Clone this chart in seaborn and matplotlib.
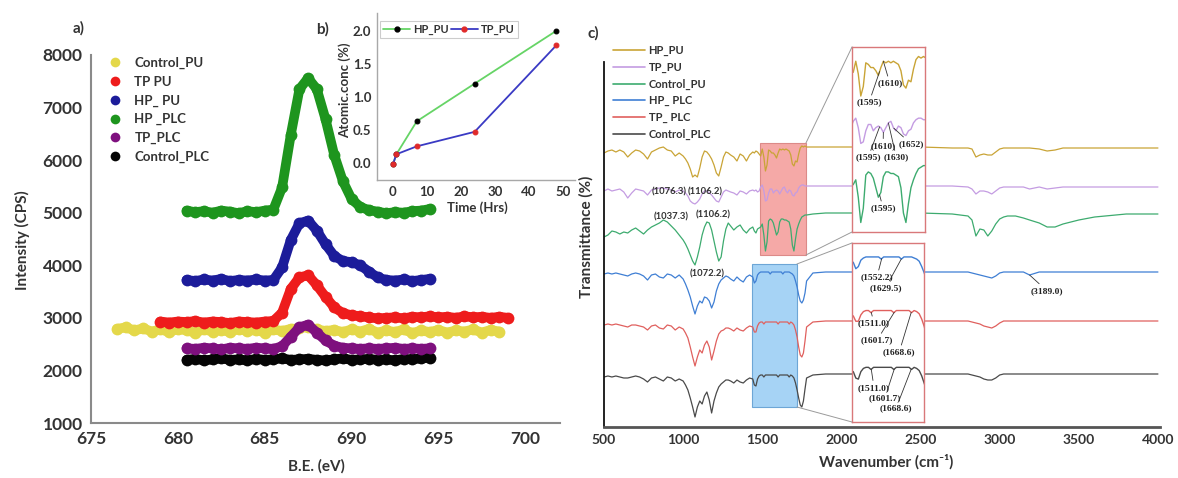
import numpy as np
import matplotlib
matplotlib.use("Agg")
import matplotlib.pyplot as plt
from matplotlib.lines import Line2D
from matplotlib.patches import Rectangle, ConnectionPatch
import seaborn as sns

sns.set_style("white")
plt.rcParams["font.family"] = ["Lato", "DejaVu Sans"]
plt.rcParams["font.weight"] = "bold"
plt.rcParams["axes.labelweight"] = "bold"
plt.rcParams["text.color"] = "#333333"
plt.rcParams["axes.labelcolor"] = "#333333"
plt.rcParams["xtick.color"] = "#333333"
plt.rcParams["ytick.color"] = "#333333"

# ---------------- (a) XPS F 1s spectra ----------------
be_control_pu = np.arange(676.5, 698.51, 0.5)
cps_control_pu = [2790, 2820, 2760, 2800, 2740, 2780, 2730, 2790, 2760, 2720,
                  2780, 2740, 2770, 2730, 2790, 2750, 2770, 2720, 2780, 2750,
                  2790, 2800, 2830, 2780, 2750, 2770, 2730, 2780, 2740, 2790,
                  2720, 2760, 2730, 2780, 2710, 2760, 2730, 2770, 2720, 2760,
                  2740, 2780, 2720, 2770, 2740]
be_tp_pu = np.arange(679.0, 699.01, 0.5)
cps_tp_pu = [2930, 2910, 2930, 2920, 2940, 2910, 2930, 2920, 2900, 2930,
             2920, 2910, 2930, 2940, 3100, 3550, 3770, 3810, 3620, 3400,
             3200, 3090, 3050, 3030, 3010, 2990, 3000, 3010, 2990, 3020,
             3010, 3030, 3010, 3020, 3000, 3030, 3010, 3020, 3000, 3020, 3000]
be_short = np.arange(680.5, 694.51, 0.5)
cps_hp_pu = [3720, 3700, 3730, 3710, 3740, 3700, 3720, 3710, 3730, 3710,
             3720, 3960, 4480, 4800, 4850, 4660, 4400, 4180, 4080, 4060,
             4000, 3880, 3770, 3720, 3710, 3730, 3700, 3720, 3740]
cps_hp_plc = [5040, 5010, 5030, 5000, 5040, 5020, 4990, 5030, 5010, 5040,
              5060, 5480, 6480, 7350, 7560, 7350, 6780, 6100, 5600, 5260,
              5110, 5050, 5020, 4990, 5010, 5000, 5030, 5040, 5070]
cps_tp_plc = [2420, 2410, 2430, 2420, 2400, 2430, 2420, 2410, 2430, 2420,
              2410, 2460, 2640, 2820, 2870, 2720, 2570, 2470, 2430, 2420,
              2410, 2420, 2410, 2420, 2430, 2410, 2420, 2410, 2420]
cps_control_plc = [2200, 2220, 2190, 2210, 2230, 2200, 2210, 2190, 2220, 2200,
                   2210, 2230, 2200, 2210, 2220, 2200, 2190, 2210, 2230, 2200,
                   2210, 2220, 2200, 2210, 2190, 2220, 2210, 2230, 2240]
xps_labels = ["Control_PU", "TP PU", "HP_ PU", "HP _PLC", "TP_PLC", "Control_PLC"]
xps_colors = ["#e4d84a", "#ee1c1c", "#1c1c9a", "#1e951e", "#7e107e", "#050505"]

# ---------------- (b) atomic concentration vs time ----------------
time_hrs = [0, 1, 7, 24, 48]
conc_hp_pu = [-0.02, 0.13, 0.63, 1.20, 2.00]
conc_tp_pu = [-0.02, 0.13, 0.25, 0.47, 1.78]

# ---------------- (c) FTIR spectra (stacked, arbitrary offsets) ----------------
wavenumber = np.concatenate([
    np.arange(500, 1001, 25), np.arange(1015, 1301, 15), np.arange(1320, 1441, 20),
    np.arange(1450, 1781, 10), [1820, 1900, 2000, 2100, 2300, 2500, 2700, 2800],
    np.arange(2825, 3051, 25), [3100, 3150, 3189, 3250, 3300, 3350, 3400, 3500, 3600, 3800, 4000]])

t_hp_pu = [274, 276, 277, 275, 277, 275, 270, 274, 277, 276, 273, 268, 275, 277, 279, 280, 277, 276, 271, 274, 271,
           268, 264, 258, 250, 252, 250, 259, 270, 276, 275, 272, 268, 262, 254, 251, 260, 270, 275, 274, 272,
           270, 266, 273, 271, 266, 272, 275,
           274, 276, 275, 273, 271, 278, 270, 256, 262, 277, 276, 274, 274, 272, 269, 274, 278, 277, 278, 277,
           278, 277, 276, 272, 263, 261, 266, 265, 273, 279, 281, 280, 281, 280,
           280, 280, 280, 280, 280, 280, 279, 279,
           278, 270, 272, 273, 272, 272, 275, 278, 279, 279,
           279, 279, 279, 278, 276, 277, 279, 279, 279, 279, 279]
t_tp_pu = [236, 238, 236, 237, 238, 235, 229, 234, 238, 237, 236, 232, 237, 238, 239, 239, 238, 237, 235, 237, 236,
           234, 231, 226, 224, 223, 225, 228, 233, 236, 236, 234, 232, 229, 226, 225, 230, 235, 237, 236, 235,
           234, 232, 236, 235, 233, 236, 237,
           236, 237, 235, 236, 240, 242, 236, 226, 227, 234, 238, 238, 234, 236, 237, 236, 233, 236, 239, 240,
           236, 234, 237, 236, 232, 231, 234, 235, 239, 241, 242, 242, 241, 241,
           241, 241, 241, 241, 241, 241, 241, 240,
           238, 233, 236, 236, 235, 233, 236, 239, 240, 240,
           240, 240, 238, 240, 238, 239, 240, 240, 240, 240, 240]
t_control_pu = [190, 192, 196, 195, 193, 195, 194, 197, 199, 196, 193, 197, 200, 202, 204, 207, 205, 201, 197, 192, 187,
                183, 178, 172, 166, 162, 170, 180, 192, 200, 205, 204, 197, 186, 175, 166, 170, 186, 198, 204, 201,
                197, 200, 202, 197, 194, 198, 200,
                196, 194, 198, 199, 200, 203, 192, 176, 185, 206, 208, 207, 204, 198, 192, 195, 205, 208, 208, 207,
                207, 206, 205, 198, 182, 176, 188, 198, 203, 207, 210, 211, 212, 212,
                213, 214, 214, 214, 214, 214, 213, 211,
                207, 191, 198, 197, 191, 196, 203, 208, 210, 211,
                211, 209, 207, 204, 200, 200, 203, 207, 210, 213, 213]
t_hp_plc = [153, 154, 153, 154, 153, 152, 151, 153, 154, 153, 151, 147, 152, 153, 150, 149, 153, 152, 149, 152, 148,
            143, 137, 130, 121, 113, 121, 126, 124, 130, 129, 126, 119, 125, 136, 143, 147, 149, 151, 150, 148,
            146, 150, 147, 145, 150, 152, 150,
            144, 146, 152, 154, 155, 155, 155, 155, 155, 155, 153, 155, 155, 155, 155, 155, 155, 155, 153,
            155, 155, 155, 155, 154, 153, 151, 146, 140, 132, 126, 124, 127, 134, 146,
            154, 155, 155, 155, 155, 155, 155, 155,
            154, 153, 152, 151, 150, 149, 151, 154, 155, 155,
            155, 155, 152, 155, 155, 155, 155, 155, 155, 155, 155]
t_tp_plc = [102, 103, 102, 103, 102, 101, 100, 102, 102, 101, 100, 97, 101, 102, 99, 98, 102, 101, 97, 100, 98,
            94, 89, 80, 70, 61, 70, 77, 74, 82, 86, 80, 67, 76, 86, 93, 96, 97, 99, 99, 98,
            96, 99, 97, 96, 99, 101, 100,
            95, 95, 101, 104, 105, 105, 103, 105, 105, 105, 105, 105, 105, 105, 105, 103, 105, 105, 105, 105,
            105, 105, 103, 105, 104, 102, 97, 90, 80, 72, 70, 74, 86, 100,
            105, 106, 106, 106, 106, 106, 106, 106,
            105, 104, 103, 101, 100, 99, 101, 104, 106, 106,
            106, 106, 106, 106, 106, 106, 106, 106, 106, 106, 106]
t_control_plc = [50, 51, 50, 51, 50, 49, 49, 50, 51, 50, 48, 45, 49, 50, 48, 46, 50, 49, 46, 48, 46,
                 42, 37, 29, 20, 10, 20, 26, 23, 31, 35, 27, 14, 26, 34, 40, 43, 45, 47, 47, 46,
                 44, 47, 45, 44, 47, 49, 48,
                 42, 41, 48, 51, 52, 52, 50, 52, 52, 52, 52, 52, 52, 52, 52, 50, 52, 52, 52, 52,
                 52, 52, 50, 52, 51, 49, 44, 37, 29, 22, 20, 26, 38, 49,
                 52, 53, 53, 53, 53, 53, 53, 53,
                 52, 51, 50, 48, 47, 47, 49, 52, 53, 53,
                 53, 53, 53, 53, 53, 53, 53, 53, 53, 53, 53]
ftir_labels = ["HP_PU", "TP_PU", "Control_PU", "HP_ PLC", "TP_ PLC", "Control_PLC"]
ftir_colors = ["#c9a436", "#c49ce2", "#3dab6f", "#3f7fd4", "#e0605e", "#4a4a4a"]

W, H = 1178, 478


def frame(left, top, right, bottom):
    return [left / W, 1 - bottom / H, (right - left) / W, (bottom - top) / H]


fig = plt.figure(figsize=(W / 100, H / 100), dpi=100)

# ---------------- panel a ----------------
ax_a = fig.add_axes(frame(91, 55, 560, 423))
xps_curves = {
    "Control_PU": (be_control_pu, cps_control_pu),
    "TP PU": (be_tp_pu, cps_tp_pu),
    "HP_ PU": (be_short, cps_hp_pu),
    "HP _PLC": (be_short, cps_hp_plc),
    "TP_PLC": (be_short, cps_tp_plc),
    "Control_PLC": (be_short, cps_control_plc),
}
xps_color_of = dict(zip(xps_labels, xps_colors))
for name in ["Control_PU", "Control_PLC", "TP_PLC", "TP PU", "HP_ PU", "HP _PLC"]:
    be, cps = xps_curves[name]
    sns.lineplot(x=be, y=cps, ax=ax_a, color=xps_color_of[name], lw=7.0, marker="o",
                 markersize=8.5, markeredgewidth=0, solid_capstyle="round",
                 estimator=None, sort=False, legend=False)
ax_a.set_xlim(675, 702)
ax_a.set_ylim(1000, 8000)
ax_a.set_xticks(range(675, 701, 5))
ax_a.set_yticks(range(1000, 8001, 1000))
ax_a.tick_params(length=0, labelsize=12.5, pad=6)
for s in ["top", "right"]:
    ax_a.spines[s].set_visible(False)
for s in ["left", "bottom"]:
    ax_a.spines[s].set_color("#8a8a8a")
    ax_a.spines[s].set_linewidth(1.5)
ax_a.set_xlabel("B.E. (eV)", fontsize=11)
ax_a.set_ylabel("Intensity (CPS)", fontsize=11)
ax_a.xaxis.label.set_va("center")
ax_a.yaxis.label.set_va("center")
ax_a.xaxis.set_label_coords(0.48, -0.117)
ax_a.yaxis.set_label_coords(-0.147, 0.497)
handles_a = [Line2D([], [], ls="none", marker="o", markersize=7, markeredgewidth=0, color=c)
             for c in xps_colors]
ax_a.legend(handles_a, xps_labels, loc="upper left", bbox_to_anchor=(108 / W, 1 - 57 / H),
            bbox_transform=fig.transFigure, frameon=False, fontsize=9.5, handlelength=1.0,
            handletextpad=1.0, labelspacing=0.5, borderpad=0, borderaxespad=0)

# ---------------- panel b ----------------
ax_b = fig.add_axes(frame(377, 13, 575, 180))
ax_b.set_facecolor("none")
sns.lineplot(x=time_hrs, y=conc_hp_pu, ax=ax_b, color="#66d466", lw=1.3, marker="o",
             markersize=3.5, markerfacecolor="black", markeredgecolor="black",
             estimator=None, sort=False, legend=False)
sns.lineplot(x=time_hrs, y=conc_tp_pu, ax=ax_b, color="#3a3ac4", lw=1.3, marker="o",
             markersize=3.5, markerfacecolor="#e02a2a", markeredgecolor="#e02a2a",
             estimator=None, sort=False, legend=False)
ax_b.set_xlim(-4.7, 53.5)
ax_b.set_ylim(-0.26, 2.27)
ax_b.set_xticks(range(0, 51, 10))
ax_b.set_yticks([0.0, 0.5, 1.0, 1.5, 2.0])
ax_b.set_yticklabels([f"{v:.1f}" for v in [0.0, 0.5, 1.0, 1.5, 2.0]])
ax_b.tick_params(length=0, labelsize=9.5, pad=4)
for s in ["top", "right"]:
    ax_b.spines[s].set_visible(False)
for s in ["left", "bottom"]:
    ax_b.spines[s].set_color("#a8a8a8")
    ax_b.spines[s].set_linewidth(1.0)
ax_b.set_xlabel("Time (Hrs)", fontsize=9.5)
ax_b.set_ylabel("Atomic.conc (%)", fontsize=9.5)
ax_b.xaxis.label.set_va("center")
ax_b.yaxis.label.set_va("center")
ax_b.xaxis.set_label_coords(0.505, -0.168)
ax_b.yaxis.set_label_coords(-0.162, 0.54)
handles_b = [Line2D([], [], color="#66d466", lw=1.3, marker="o", markersize=3.5,
                    markerfacecolor="black", markeredgecolor="black"),
             Line2D([], [], color="#3a3ac4", lw=1.3, marker="o", markersize=3.5,
                    markerfacecolor="#e02a2a", markeredgecolor="#e02a2a")]
leg_b = ax_b.legend(handles_b, ["HP_PU", "TP_PU"], ncol=2, loc="upper left",
                    bbox_to_anchor=(0.015, 0.955), frameon=True, fancybox=False,
                    fontsize=8, handlelength=2.4, handletextpad=0.3, columnspacing=0.2,
                    borderpad=0.3, borderaxespad=0)
leg_b.get_frame().set_edgecolor("#c0c0c0")
leg_b.get_frame().set_linewidth(0.8)

# ---------------- panel c ----------------
ax_c = fig.add_axes(frame(604, 62, 1160, 427))
ax_c.set_facecolor("none")
ftir_traces = [t_hp_pu, t_tp_pu, t_control_pu, t_hp_plc, t_tp_plc, t_control_plc]
pu_window = (1485, 1776, 172, 284)
plc_window = (1435, 1719, 20, 163)
ax_c.add_patch(Rectangle((pu_window[0], pu_window[2]), pu_window[1] - pu_window[0],
                         pu_window[3] - pu_window[2], facecolor="#f5a9a7",
                         edgecolor="#dc8a88", lw=0.8, zorder=1))
ax_c.add_patch(Rectangle((plc_window[0], plc_window[2]), plc_window[1] - plc_window[0],
                         plc_window[3] - plc_window[2], facecolor="#a6d3f5",
                         edgecolor="#6da6d6", lw=0.8, zorder=1))
for trace, color in zip(ftir_traces, ftir_colors):
    sns.lineplot(x=wavenumber, y=trace, ax=ax_c, color=color, lw=0.9,
                 estimator=None, sort=False, legend=False, zorder=2)
ax_c.set_xlim(500, 4013)
ax_c.set_ylim(0, 365)
ax_c.set_xticks(range(500, 4001, 500))
ax_c.set_yticks([])
ax_c.tick_params(length=0, labelsize=10, pad=5)
for s in ["top", "right"]:
    ax_c.spines[s].set_visible(False)
ax_c.spines["left"].set_color("#111111")
ax_c.spines["left"].set_linewidth(1.3)
ax_c.spines["bottom"].set_color("#555555")
ax_c.spines["bottom"].set_linewidth(2.0)
ax_c.set_xlabel("Wavenumber (cm⁻¹)", fontsize=11)
ax_c.set_ylabel("Transmittance (%)", fontsize=11)
ax_c.xaxis.label.set_va("center")
ax_c.yaxis.label.set_va("center")
ax_c.xaxis.set_label_coords(0.507, -0.096)
ax_c.yaxis.set_label_coords(-0.031, 0.52)

main_tags = [("(1076.3)", 912, 235), ("(1106.2)", 1140, 235),
             ("(1037.3)", 925, 210), ("(1106.2)", 1189, 212), ("(1072.2)", 1151, 153)]
for text, x, y in main_tags:
    ax_c.text(x, y, text, fontsize=6.8, ha="center", va="center", color="#333333", zorder=3)
ax_c.annotate("(3189.0)", xy=(3189.0, np.interp(3189.0, wavenumber, t_hp_plc)),
              xytext=(3300, 136), fontsize=6.8, ha="center", va="center",
              fontfamily=["Liberation Serif"], color="#222222",
              arrowprops=dict(arrowstyle="-", color="#333333", lw=0.6, shrinkA=0, shrinkB=0))

handles_c = [Line2D([], [], color=c, lw=1.2) for c in ftir_colors]
ax_c.legend(handles_c, ftir_labels, loc="upper left", bbox_to_anchor=(613 / W, 1 - 45 / H),
            bbox_transform=fig.transFigure, frameon=False, fontsize=8, handlelength=2.9,
            handletextpad=0.3, labelspacing=0.5, borderpad=0, borderaxespad=0)

# magnified views of the shaded windows
ins_pu = fig.add_axes(frame(852, 47, 925, 232), zorder=5)
ins_plc = fig.add_axes(frame(852, 243, 924, 422), zorder=5)
for ins, traces, colors, win, ylim in [
        (ins_pu, ftir_traces[:3], ftir_colors[:3], pu_window, (170, 287)),
        (ins_plc, ftir_traces[3:], ftir_colors[3:], plc_window, (1, 168))]:
    ins.set_facecolor("white")
    for trace, color in zip(traces, colors):
        sns.lineplot(x=wavenumber, y=trace, ax=ins, color=color, lw=1.0,
                     estimator=None, sort=False, legend=False)
    ins.set_xlim(win[0], win[1])
    ins.set_ylim(*ylim)
    ins.set_xticks([])
    ins.set_yticks([])
    ins.set_xlabel("")
    ins.set_ylabel("")
    for s in ins.spines.values():
        s.set_color("#d9787a")
        s.set_linewidth(1.0)
    for xa, ya, yb in [(win[1], win[3], 1), (win[1], win[2], 0)]:
        con = ConnectionPatch(xyA=(xa, ya), coordsA=ax_c.transData, xyB=(0, yb),
                              coordsB=ins.transAxes, color="#9a9a9a", lw=0.7, zorder=6)
        fig.add_artist(con)

inset_tags = [
    (ins_pu, t_hp_pu, "(1595)", 1595, 1553, 252),
    (ins_pu, t_hp_pu, "(1610)", 1610, 1636, 264),
    (ins_pu, t_tp_pu, "(1610)", 1610, 1609, 224.5),
    (ins_pu, t_tp_pu, "(1652)", 1652, 1722, 225.5),
    (ins_pu, t_tp_pu, "(1595)", 1595, 1549, 217),
    (ins_pu, t_tp_pu, "(1630)", 1630, 1662, 217),
    (ins_pu, t_control_pu, "(1595)", 1595, 1609, 185),
    (ins_plc, t_hp_plc, "(1552.2)", 1552.2, 1533, 136),
    (ins_plc, t_hp_plc, "(1629.5)", 1629.5, 1567, 126),
    (ins_plc, t_tp_plc, "(1511.0)", 1511.0, 1522, 93),
    (ins_plc, t_tp_plc, "(1601.7)", 1601.7, 1533, 77),
    (ins_plc, t_tp_plc, "(1668.6)", 1668.6, 1621, 66),
    (ins_plc, t_control_plc, "(1511.0)", 1511.0, 1522, 33),
    (ins_plc, t_control_plc, "(1601.7)", 1601.7, 1564, 23),
    (ins_plc, t_control_plc, "(1668.6)", 1668.6, 1609, 14),
]
for ins, trace, text, peak, tx, ty in inset_tags:
    ins.annotate(text, xy=(peak, np.interp(peak, wavenumber, trace)), xytext=(tx, ty),
                 fontsize=6.8, ha="center", va="center", fontfamily=["Liberation Serif"],
                 fontweight="bold", color="#222222", annotation_clip=False,
                 arrowprops=dict(arrowstyle="-", color="#333333", lw=0.6, shrinkA=0, shrinkB=0))

# panel letters
for letter, x, y in [("a)", 73, 28), ("b)", 316, 29), ("c)", 587, 33)]:
    fig.text(x / W, 1 - y / H, letter, fontsize=11, fontweight="bold", va="center", ha="left")

fig.savefig("out.png", dpi=100)
